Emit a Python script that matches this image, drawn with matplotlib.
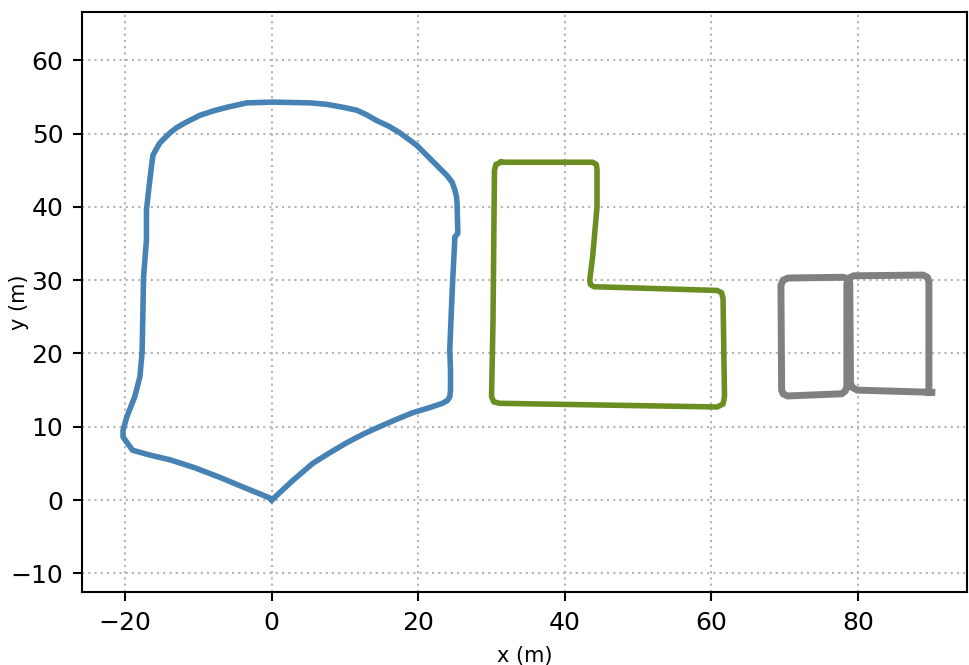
import numpy as np
import matplotlib
matplotlib.use("Agg")
import matplotlib.pyplot as plt

# trajectory 1 (blue loop)
blue_x = [0.0, 2.8, 5.6, 8.0, 10.2, 12.5, 14.7, 17.0, 19.2, 21.5, 23.3, 24.0, 24.3, 24.4,
          24.4, 24.3, 24.5, 24.7, 25.0, 25.4, 25.3, 25.2, 25.0, 24.6, 23.9, 22.9, 21.4,
          19.8, 17.5, 16.0, 14.3, 12.9, 11.6, 9.7, 7.5, 5.2, 0.1, -3.4, -6.1, -8.0, -9.8,
          -11.6, -13.0, -13.9, -15.3, -16.2, -16.4, -16.8, -17.1, -17.1, -17.5, -17.6,
          -17.7, -18.0, -18.7, -19.8, -20.3, -20.3, -19.0, -16.5, -13.9, -10.5, -7.1,
          -3.5, -0.3, 0.0]
blue_y = [0.0, 2.6, 5.0, 6.5, 7.8, 9.0, 10.0, 11.0, 11.9, 12.6, 13.2, 13.6, 14.1, 15.0,
          17.7, 20.5, 25.5, 30.0, 35.9, 36.4, 40.5, 41.5, 42.3, 43.4, 44.3, 45.3, 46.8,
          48.4, 50.1, 51.0, 51.8, 52.6, 53.2, 53.6, 54.0, 54.2, 54.3, 54.2, 53.6, 53.1,
          52.5, 51.6, 50.8, 50.1, 48.7, 47.1, 45.7, 42.3, 39.6, 35.5, 30.4, 25.0, 20.1,
          16.8, 14.1, 11.3, 9.5, 8.6, 6.8, 6.1, 5.5, 4.4, 3.1, 1.6, 0.3, 0.0]

# trajectory 2 (green L shape)
green_x = [31.3, 43.8, 44.3, 44.4, 44.4, 43.8, 43.4, 43.5, 44.0, 44.4, 60.8, 61.4, 61.6,
           61.8, 61.6, 60.8, 31.1, 30.3, 30.0, 30.2, 30.4, 30.6, 31.3]
green_y = [46.1, 46.1, 45.8, 45.1, 40.0, 33.2, 30.0, 29.4, 29.1, 29.1, 28.6, 28.3, 27.5,
           14.1, 13.1, 12.7, 13.2, 13.4, 14.1, 24.3, 45.0, 45.8, 46.1]

# trajectory 3 (gray double square)
gray_x = [90.1, 79.9, 79.2, 79.0, 78.9, 78.6, 78.0, 70.5, 69.8, 69.5, 69.6, 69.8, 70.4,
          77.8, 78.3, 78.5, 78.5, 78.8, 79.4, 88.9, 89.5, 89.7, 89.7]
gray_y = [14.7, 15.0, 15.4, 16.0, 29.7, 30.2, 30.4, 30.3, 30.0, 29.3, 15.0, 14.5, 14.2,
          14.5, 14.9, 15.5, 29.5, 30.3, 30.6, 30.7, 30.4, 29.8, 14.7]

fig = plt.figure(figsize=(9.69, 6.65), dpi=100)
ax = fig.add_axes([82 / 969, 73 / 665, 885 / 969, 580 / 665])

ax.plot(blue_x, blue_y, color="#4682b4", lw=4, solid_joinstyle="round")
ax.plot(green_x, green_y, color="#6b8e23", lw=4, solid_joinstyle="round")
ax.plot(gray_x, gray_y, color="#808080", lw=5, solid_joinstyle="round")

ax.set_xlim(-25.9, 94.9)
ax.set_ylim(-12.55, 66.6)
ax.set_xticks([-20, 0, 20, 40, 60, 80])
ax.set_yticks([-10, 0, 10, 20, 30, 40, 50, 60])
ax.grid(True, linestyle=(0, (1, 2)), color="#b3b3b3", lw=1.5)
ax.set_axisbelow(True)

ax.tick_params(labelsize=18, length=6.5, width=1.5, pad=7)
for s in ax.spines.values():
    s.set_linewidth(1.5)

ax.set_xlabel("x (m)", fontsize=15)
ax.set_ylabel("y (m)", fontsize=15)
ax.xaxis.set_label_coords(0.5, -0.093)
ax.yaxis.set_label_coords(-0.060, 0.5)

fig.savefig("out.png", dpi=100)
